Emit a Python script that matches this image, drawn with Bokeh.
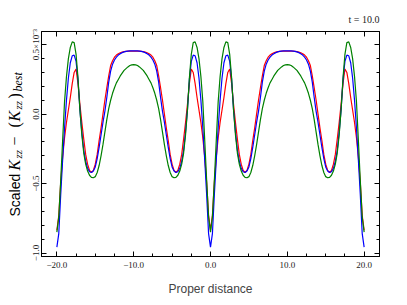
import math
from bokeh.plotting import figure
from bokeh.layouts import row
from bokeh.models import Range1d, FixedTicker, LinearAxis, Label, CustomJSTickFormatter
from bokeh.embed import file_html
from bokeh.resources import INLINE

# ---- data (values in units of 1e-3), read for 0 <= x <= 10; curves are mirror-symmetric ----
x_half = [0.0, 0.25, 0.5, 0.75, 1.0, 1.25, 1.5, 1.75, 2.0, 2.25, 2.5, 2.75, 3.0, 3.25,
          3.5, 3.75, 4.0, 4.25, 4.5, 4.75, 5.0, 5.25, 5.5, 5.75, 6.0, 6.25, 6.5, 6.75,
          7.0, 7.25, 7.5, 7.75, 8.0, 8.25, 8.5, 8.75, 9.0, 9.25, 9.5, 9.75, 10.0]
red_half = [-0.836, -0.73, -0.49, -0.31, -0.17, -0.06, 0.03, 0.12, 0.22, 0.30, 0.325,
            0.22, 0.07, -0.06, -0.18, -0.29, -0.36, -0.405, -0.42, -0.405, -0.36, -0.29,
            -0.19, -0.10, 0.0, 0.10, 0.19, 0.275, 0.35, 0.385, 0.41, 0.425, 0.435,
            0.442, 0.447, 0.45, 0.452, 0.453, 0.454, 0.454, 0.454]
blue_half = [-0.957, -0.86, -0.58, -0.33, -0.10, 0.10, 0.26, 0.37, 0.42, 0.425, 0.38,
             0.25, 0.03, -0.13, -0.26, -0.34, -0.39, -0.415, -0.42, -0.41, -0.38, -0.32,
             -0.24, -0.15, -0.06, 0.02, 0.12, 0.23, 0.31, 0.36, 0.39, 0.41, 0.425,
             0.435, 0.443, 0.448, 0.452, 0.454, 0.455, 0.456, 0.456]
green_half = [-0.85, -0.74, -0.48, -0.19, 0.09, 0.27, 0.40, 0.48, 0.52, 0.515, 0.43,
              0.26, 0.03, -0.15, -0.28, -0.36, -0.41, -0.44, -0.455, -0.458, -0.45, -0.42,
              -0.37, -0.30, -0.22, -0.13, -0.04, 0.04, 0.10, 0.15, 0.19, 0.225, 0.25,
              0.275, 0.295, 0.315, 0.328, 0.34, 0.35, 0.355, 0.357]

x_ticks = [-20, -10, 0, 10, 20]
x_tick_labels = ["−20.0", "−10.0", "0.0", "10.0", "20.0"]
x_minor = [-22.5 + 2.5 * i for i in range(19)]
y_ticks = [-1.0, -0.5, 0.0, 0.5]
y_tick_labels = ["−1.0", "−0.5", "0.0", "0.5×10⁻³"]
y_minor = [round(-1.0 + 0.1 * i, 1) for i in range(16)]
time_label = "t = 10.0"


def full_curve(xh, yh):
    xs, ys = [], []
    xs += [-20 + h for h in xh]; ys += list(yh)
    xs += [-h for h in reversed(xh)]; ys += list(reversed(yh))
    xs += list(xh); ys += list(yh)
    xs += [20 - h for h in reversed(xh)]; ys += list(reversed(yh))
    return xs, ys


H = 298
LW = 26          # width of the strip holding the y-axis label
W = 391 - LW

p = figure(width=W, height=H, output_backend="svg", toolbar_location=None,
           x_range=Range1d(-22, 22), y_range=Range1d(-1.025, 0.595),
           min_border_left=15, min_border_right=12, min_border_top=31, min_border_bottom=40)
p.grid.visible = False
p.outline_line_color = "black"
p.outline_line_width = 1
p.background_fill_color = "white"
p.border_fill_color = "white"

for (col, yh) in [("#ff0000", red_half), ("#0000ff", blue_half), ("#008000", green_half)]:
    xs, ys = full_curve(x_half, yh)
    p.line(xs, ys, line_color=col, line_width=1.2)

serif = "Liberation Serif"


def style_axis(ax, ticks, minor, labels):
    ax.ticker = FixedTicker(ticks=ticks, minor_ticks=minor)
    ax.axis_line_color = "black"
    ax.major_tick_in = 5
    ax.major_tick_out = 0
    ax.minor_tick_in = 3
    ax.minor_tick_out = 0
    ax.major_tick_line_color = "black"
    ax.minor_tick_line_color = "black"
    if labels is not None:
        ax.major_label_overrides = {t: l for t, l in zip(ticks, labels)}
        ax.major_label_text_font = serif
        ax.major_label_text_font_size = "9px"
        ax.major_label_text_color = "#222222"


xa = p.xaxis[0]
style_axis(xa, x_ticks, x_minor, x_tick_labels)
xa.major_label_standoff = 5
xa.axis_label = "Proper distance"
xa.axis_label_text_font = "Liberation Sans"
xa.axis_label_text_font_style = "normal"
xa.axis_label_text_font_size = "12px"
xa.axis_label_standoff = 11

ya = p.yaxis[0]
style_axis(ya, y_ticks, y_minor, y_tick_labels)
ya.major_label_orientation = "vertical"
ya.major_label_standoff = 0

blank = CustomJSTickFormatter(code="return ''")
top = LinearAxis(formatter=blank, major_label_standoff=0)
style_axis(top, x_ticks, x_minor, None)
p.add_layout(top, "above")
right = LinearAxis(formatter=blank, major_label_standoff=0)
style_axis(right, y_ticks, y_minor, None)
p.add_layout(right, "right")

p.title.text = time_label
p.title.align = "right"
p.title.text_font = serif
p.title.text_font_style = "normal"
p.title.text_font_size = "10px"
p.title.text_color = "#222222"
p.title.standoff = 14

# ---- strip on the left holding the y-axis label (composed of pieces, rotated) ----
lf = figure(width=LW, height=H, output_backend="svg", toolbar_location=None,
            x_range=Range1d(0, LW), y_range=Range1d(0, H), title=None,
            x_axis_type=None, y_axis_type=None, min_border=0)
lf.grid.visible = False
lf.outline_line_color = None
lf.background_fill_color = "white"
lf.border_fill_color = "white"

# (text, font, style, size px, subscript shift, offset along the label in px)
pieces = [
    ("Scaled", "Liberation Sans", "normal", 14, 0.0, 0),
    ("K", serif, "italic", 16, 0.0, 46),
    ("zz", serif, "italic", 11, 3.5, 58),
    ("−", serif, "normal", 16, 0.0, 71),
    ("(", serif, "normal", 16, 0.0, 89),
    ("K", serif, "italic", 16, 0.0, 95),
    ("zz", serif, "italic", 11, 3.5, 107),
    (")", serif, "normal", 16, 0.0, 118),
    ("best", serif, "italic", 12, 3.5, 125),
]
x_base = 14      # baseline position inside the strip (px)
y_start = 40     # start of the text above the strip frame's bottom (px)
for txt, font, style, size, shift, off in pieces:
    lab = Label(x=x_base + shift, y=y_start + off, x_units="screen", y_units="screen",
                text=txt, angle=math.pi / 2, text_font=font, text_font_style=style,
                text_font_size=f"{size}px", text_baseline="alphabetic", text_align="left",
                text_color="black")
    lf.add_layout(lab)

layout = row(lf, p, spacing=0)
open("out.html", "w").write(file_html(layout, INLINE))
